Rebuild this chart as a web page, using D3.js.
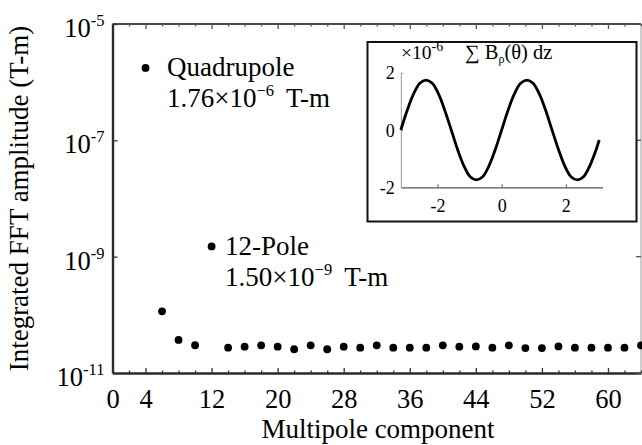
<!DOCTYPE html>
<html>
<head>
<meta charset="utf-8">
<script src="https://cdn.jsdelivr.net/npm/d3@7"></script>
<style>
  body { margin: 0; background: #fff; }
  text { font-family: "Liberation Serif", "Times New Roman", serif; fill: #000; }
</style>
</head>
<body>
<svg id="chart" width="642" height="445"></svg>
<script>
// Multipole orders and their integrated FFT amplitudes (T-m)
const multipoleOrder = [4, 6, 8, 10, 12, 14, 16, 18, 20, 22, 24, 26, 28, 30, 32, 34,
  36, 38, 40, 42, 44, 46, 48, 50, 52, 54, 56, 58, 60, 62, 64];
const fftAmplitude = [1.76e-6, 1.15e-10, 3.7e-11, 3.0e-11, 1.50e-9, 2.72e-11, 2.83e-11,
  2.99e-11, 2.83e-11, 2.56e-11, 2.99e-11, 2.56e-11, 2.83e-11, 2.72e-11, 2.99e-11, 2.72e-11,
  2.72e-11, 2.72e-11, 2.99e-11, 2.83e-11, 2.86e-11, 2.72e-11, 2.99e-11, 2.68e-11, 2.68e-11,
  2.86e-11, 2.72e-11, 2.72e-11, 2.72e-11, 2.72e-11, 2.99e-11];

// Axis ticks
const xTickLabels = [0, 4, 12, 20, 28, 36, 44, 52, 60];
const yTickExponents = [-5, -7, -9, -11];

// Labelled harmonics
const callouts = [
  { order: 4, name: "Quadrupole", mantissa: "1.76", exponent: "\u22126" },
  { order: 12, name: "12-Pole", mantissa: "1.50", exponent: "\u22129" }
];

// Inset: integrated radial field versus angle (units of 1e-6 T-m)
const insetTheta = [-3.14, -2.95, -2.75, -2.55, -2.36, -2.16, -1.96, -1.77, -1.57, -1.37,
  -1.18, -0.98, -0.79, -0.59, -0.39, -0.20, 0.00, 0.20, 0.39, 0.59, 0.79, 0.98, 1.18,
  1.37, 1.57, 1.77, 1.96, 2.16, 2.36, 2.55, 2.75, 2.95, 3.04];
const insetField = [0.00, 0.66, 1.24, 1.63, 1.74, 1.63, 1.24, 0.68, 0.00, -0.69,
  -1.24, -1.63, -1.74, -1.63, -1.24, -0.69, 0.00, 0.69, 1.24, 1.63, 1.74, 1.63, 1.24,
  0.69, 0.00, -0.68, -1.24, -1.63, -1.74, -1.63, -1.24, -0.66, -0.35];
const insetXTicks = [-2, 0, 2];
const insetYTicks = [-2, 0, 2];

const svg = d3.select("#chart");

// ---- main axes ----
const plot = { left: 112.5, right: 641, top: 24, bottom: 373 };
const x = d3.scaleLinear().domain([0, 64]).range([plot.left, plot.right]);
const y = d3.scaleLog().domain([1e-11, 1e-5]).range([plot.bottom, plot.top]);

const frame = svg.append("g");
// right and top edges (lighter), then left and bottom
frame.append("line").attr("x1", plot.right).attr("x2", plot.right)
  .attr("y1", plot.top).attr("y2", plot.bottom).attr("stroke", "#bdbdbd").attr("stroke-width", 1.5);
frame.append("line").attr("x1", plot.left).attr("x2", plot.right)
  .attr("y1", plot.top).attr("y2", plot.top).attr("stroke", "#4a4a4a").attr("stroke-width", 2);

// bottom axis with inward ticks
const xMinor = d3.range(0, 65, 2);
const bottomAxis = d3.axisBottom(x).tickValues(xMinor).tickSize(0).tickFormat("");
const gx = svg.append("g").attr("transform", `translate(0,${plot.bottom})`).call(bottomAxis);
gx.select(".domain").attr("stroke", "#2b2b2b").attr("stroke-width", 2.4);
gx.selectAll(".tick line")
  .attr("y2", d => xTickLabels.includes(d) ? -5 : -2.5)
  .attr("stroke", "#333").attr("stroke-width", 1.3);
gx.selectAll(".tick").filter(d => xTickLabels.includes(d)).append("text")
  .attr("y", 35).attr("text-anchor", "middle")
  .style("font-size", "26.5px").text(d => d);

// top axis ticks
const gxTop = svg.append("g").attr("transform", `translate(0,${plot.top})`)
  .call(d3.axisTop(x).tickValues(xMinor).tickSize(0).tickFormat(""));
gxTop.select(".domain").remove();
gxTop.selectAll(".tick line")
  .attr("y2", d => xTickLabels.includes(d) ? 5 : 2.5)
  .attr("stroke", "#555").attr("stroke-width", 1.3);

// left axis with decade labels
const yTicks = yTickExponents.map(e => Math.pow(10, e));
const gy = svg.append("g").attr("transform", `translate(${plot.left},0)`)
  .call(d3.axisLeft(y).tickValues(yTicks).tickSize(0).tickFormat(""));
gy.select(".domain").attr("stroke", "#2b2b2b").attr("stroke-width", 2.4);
gy.selectAll(".tick line").attr("x2", 5).attr("stroke", "#333").attr("stroke-width", 1.3);
gy.selectAll(".tick").each(function (d, i) {
  const t = d3.select(this).append("text")
    .attr("x", -8).attr("y", 12.5).attr("text-anchor", "end")
    .style("font-size", "26.5px");
  t.append("tspan").text("10");
  t.append("tspan").attr("dy", -11).style("font-size", "16.5px")
    .text("-" + Math.abs(yTickExponents[i]));
});

// right axis ticks
svg.append("g").selectAll("line").data(yTicks).join("line")
  .attr("x1", plot.right).attr("x2", plot.right - 5)
  .attr("y1", d => y(d)).attr("y2", d => y(d))
  .attr("stroke", "#555").attr("stroke-width", 1.3);

// axis titles
svg.append("text")
  .attr("transform", `translate(28,${(plot.top + plot.bottom) / 2}) rotate(-90)`)
  .attr("text-anchor", "middle").style("font-size", "27px")
  .text("Integrated FFT amplitude (T-m)");
svg.append("text")
  .attr("x", 378).attr("y", 438).attr("text-anchor", "middle")
  .style("font-size", "27px").text("Multipole component");

// ---- data points ----
const points = multipoleOrder.map((n, i) => ({ n, v: fftAmplitude[i] }));
svg.append("g").selectAll("circle").data(points).join("circle")
  .attr("cx", d => x(d.n)).attr("cy", d => y(d.v)).attr("r", 3.9)
  .attr("fill", "#000");

// callout labels next to the dominant harmonics
const calloutOffset = { 4: 21.5, 12: 13.5 };
callouts.forEach(c => {
  const v = fftAmplitude[multipoleOrder.indexOf(c.order)];
  const cx = x(c.order) + calloutOffset[c.order];
  const cy = y(v);
  svg.append("text").attr("x", cx).attr("y", cy + 8.5)
    .style("font-size", "27px").text(c.name);
  const line2 = svg.append("text").attr("x", cx).attr("y", cy + 39.5)
    .style("font-size", "27px");
  line2.append("tspan").text(c.mantissa + "\u00d710");
  line2.append("tspan").attr("dy", -11).style("font-size", "16.5px").text(c.exponent);
  line2.append("tspan").attr("dy", 11).attr("dx", 12).text("T-m");
});

// ---- inset ----
const box = { left: 367.5, right: 636.5, top: 42, bottom: 221.5 };
svg.append("rect")
  .attr("x", box.left).attr("y", box.top)
  .attr("width", box.right - box.left).attr("height", box.bottom - box.top)
  .attr("fill", "#fff").attr("stroke", "#111").attr("stroke-width", 2);

const ix = d3.scaleLinear().domain([-Math.PI, Math.PI]).range([400.8, 602.5]);
const iy = d3.scaleLinear().domain([-2, 2]).range([187.3, 72.7]);

const ixAxis = svg.append("g").attr("transform", `translate(0,${iy(-2)})`)
  .call(d3.axisBottom(ix).tickValues(insetXTicks).tickSize(0).tickFormat(""));
ixAxis.select(".domain").attr("stroke", "#555").attr("stroke-width", 1.2);
ixAxis.selectAll(".tick line").attr("y2", -3).attr("stroke", "#555");
ixAxis.selectAll(".tick").append("text")
  .attr("y", 24.5).attr("text-anchor", "middle").style("font-size", "18px")
  .text(d => d < 0 ? "-" + Math.abs(d) : d);

const iyAxis = svg.append("g").attr("transform", `translate(${ix(-Math.PI)},0)`)
  .call(d3.axisLeft(iy).tickValues(insetYTicks).tickSize(0).tickFormat(""));
iyAxis.select(".domain").attr("stroke", "#999").attr("stroke-width", 1);
iyAxis.selectAll(".tick line").attr("x2", 2.5).attr("stroke", "#999");
iyAxis.selectAll(".tick").append("text")
  .attr("x", -6).attr("y", 6).attr("text-anchor", "end").style("font-size", "18px")
  .text(d => d < 0 ? "-" + Math.abs(d) : d);

// exponent marker and title
const expText = svg.append("text").attr("x", 401).attr("y", 58.5).style("font-size", "19.5px");
expText.append("tspan").text("\u00d710");
expText.append("tspan").attr("dy", -8).style("font-size", "14px").text("-6");

const title = svg.append("text").attr("x", 465).attr("y", 58.5).style("font-size", "20.5px");
title.append("tspan").text("\u2211 B");
title.append("tspan").attr("dy", 4).style("font-size", "12px").text("\u03c1");
title.append("tspan").attr("dy", -4).text("(\u03b8) dz");

const curve = d3.line()
  .x((d, i) => ix(insetTheta[i]))
  .y(d => iy(d))
  .curve(d3.curveCatmullRom);
svg.append("path").datum(insetField)
  .attr("d", curve).attr("fill", "none")
  .attr("stroke", "#000").attr("stroke-width", 2.8).attr("stroke-linejoin", "round");
</script>
</body>
</html>
